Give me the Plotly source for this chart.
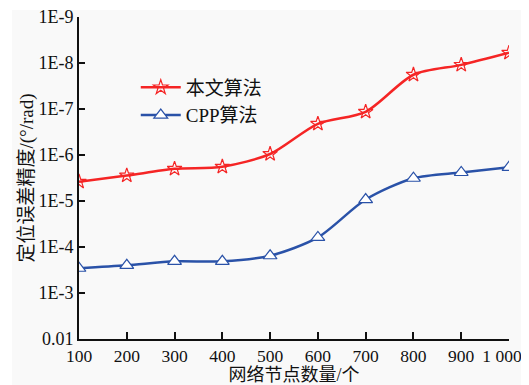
import plotly.graph_objects as go

nodes = [100, 200, 300, 400, 500, 600, 700, 800, 900, 1000]
ours = [3.8e-6, 2.8e-6, 2.0e-6, 1.8e-6, 9.5e-7, 2.1e-7, 1.15e-7, 1.8e-8, 1.1e-8, 6.0e-9]
cpp = [2.9e-4, 2.5e-4, 2.05e-4, 2.05e-4, 1.55e-4, 6.2e-5, 9.3e-6, 3.2e-6, 2.4e-6, 1.85e-6]
series_names = ["本文算法", "CPP算法"]
x_ticktext = ["100", "200", "300", "400", "500", "600", "700", "800", "900", "1 000"]
y_tickvals = [1e-9, 1e-8, 1e-7, 1e-6, 1e-5, 1e-4, 1e-3, 1e-2]
y_ticktext = ["1E-9", "1E-8", "1E-7", "1E-6", "1E-5", "1E-4", "1E-3", "0.01"]

FONT = "Liberation Serif, Times New Roman, Noto Sans CJK SC, serif"

fig = go.Figure()
fig.add_trace(go.Scatter(
    x=nodes, y=ours, name=series_names[0], mode="lines+markers",
    line=dict(color="#f52525", width=2.5, shape="spline", smoothing=0.8),
    marker=dict(symbol="star-open", size=11, color="#f52525", line=dict(width=1.2)),
))
fig.add_trace(go.Scatter(
    x=nodes, y=cpp, name=series_names[1], mode="lines+markers",
    line=dict(color="#2a52a8", width=2.5, shape="spline", smoothing=0.8),
    marker=dict(symbol="triangle-up", size=12, color="#ffffff",
                line=dict(color="#2a52a8", width=1.2)),
))
# invisible helper trace on the overlay axis carrying the last tick label
fig.add_trace(go.Scatter(x=[nodes[-1]], y=[cpp[-1]], xaxis="x2", mode="markers",
                         marker=dict(opacity=0), showlegend=False, hoverinfo="skip"))

fig.add_shape(type="rect", xref="paper", yref="paper", x0=-0.156, x1=1.05,
              y0=-0.15, y1=1.022, fillcolor="#f9f9f9", line=dict(width=0), layer="below")

fig.update_layout(
    width=521, height=377,
    margin=dict(l=71, r=20, t=9, b=46),
    paper_bgcolor="#ffffff", plot_bgcolor="rgba(0,0,0,0)",
    font=dict(family=FONT, size=18, color="#111111"),
    showlegend=True,
    legend=dict(x=0.132, y=0.84, xanchor="left", yanchor="top",
                bgcolor="rgba(0,0,0,0)", font=dict(size=19, family=FONT),
                itemwidth=40, tracegroupgap=0),
    xaxis=dict(range=[100, 1000], tickvals=nodes, ticktext=x_ticktext[:-1] + [""],
               showgrid=False, zeroline=False, showline=True, linecolor="#111111",
               linewidth=2, ticks="inside", ticklen=7, tickwidth=2, tickcolor="#111111",
               tickfont=dict(size=17.5, family=FONT), automargin=False,
               ticklabeloverflow="allow",
               title=dict(text="网络节点数量/个", font=dict(size=18, family=FONT), standoff=0)),
    xaxis2=dict(range=[100, 1000], overlaying="x", side="bottom", anchor="y",
                tickvals=[nodes[-1]], ticktext=[x_ticktext[-1]], ticklabelshift=-7,
                showgrid=False, zeroline=False, showline=True, linecolor="#111111",
                linewidth=2, ticks="inside", ticklen=7, tickwidth=2, tickcolor="#111111",
                tickfont=dict(size=17.5, family=FONT, color="#111111"), automargin=False,
                ticklabeloverflow="allow"),
    yaxis=dict(type="log", range=[-2, -9], tickvals=y_tickvals, ticktext=y_ticktext,
               showgrid=False, zeroline=False, showline=True, linecolor="#111111",
               linewidth=2, ticks="inside", ticklen=6, tickwidth=2, tickcolor="#111111",
               tickfont=dict(size=18, family=FONT), automargin=False,
               ticklabeloverflow="allow",
               title=dict(text="定位误差精度/(°/rad)", font=dict(size=19, family=FONT), standoff=0)),
)

fig.write_html("out.html")
